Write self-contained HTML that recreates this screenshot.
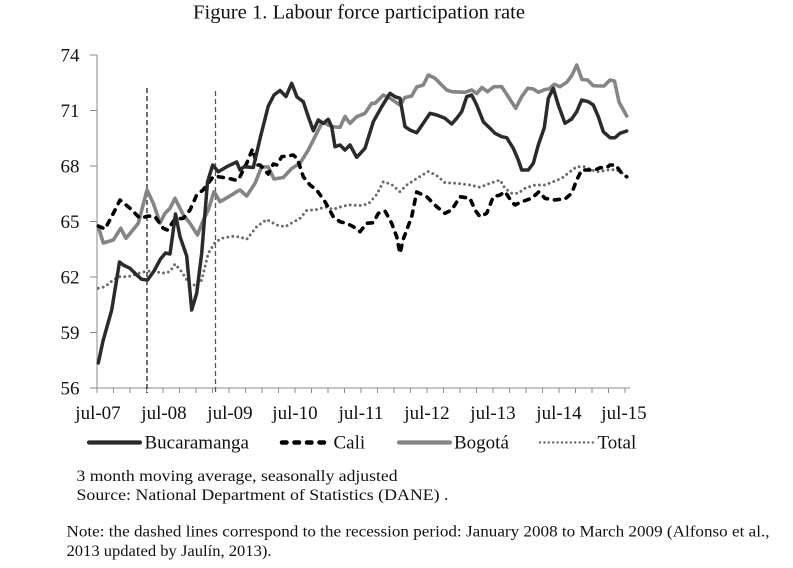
<!DOCTYPE html>
<html>
<head>
<meta charset="utf-8">
<style>
  html, body { margin: 0; padding: 0; background: #ffffff; }
  body { width: 793px; height: 568px; overflow: hidden; }
  svg { display: block; }
  text { font-family: "Liberation Serif", "Times New Roman", serif; fill: #111; }
</style>
</head>
<body>
<svg width="793" height="568" viewBox="0 0 793 568" xmlns="http://www.w3.org/2000/svg">
  <rect x="0" y="0" width="793" height="568" fill="#ffffff"/>

  <!-- Title -->
  <text x="193" y="18.5" font-size="20" textLength="332" lengthAdjust="spacingAndGlyphs">Figure 1. Labour force participation rate</text>

  <!-- Y axis -->
  <line x1="97" y1="55" x2="97" y2="388" stroke="#8a8a8a" stroke-width="1"/>
  <g stroke="#8a8a8a" stroke-width="1">
    <line x1="90" y1="55" x2="97" y2="55"/>
    <line x1="90" y1="110.5" x2="97" y2="110.5"/>
    <line x1="90" y1="166" x2="97" y2="166"/>
    <line x1="90" y1="221.5" x2="97" y2="221.5"/>
    <line x1="90" y1="277" x2="97" y2="277"/>
    <line x1="90" y1="332.5" x2="97" y2="332.5"/>
  </g>
  <g font-size="19" text-anchor="end">
    <text x="79.5" y="61.5">74</text>
    <text x="79.5" y="117">71</text>
    <text x="79.5" y="172.5">68</text>
    <text x="79.5" y="228">65</text>
    <text x="79.5" y="283.5">62</text>
    <text x="79.5" y="339">59</text>
    <text x="79.5" y="394.5">56</text>
  </g>

  <!-- X axis -->
  <line x1="90" y1="388" x2="630" y2="388" stroke="#8a8a8a" stroke-width="1"/>
  <g stroke="#8a8a8a" stroke-width="1">
    <line x1="97" y1="388" x2="97" y2="393"/><line x1="113.5" y1="388" x2="113.5" y2="393"/>
    <line x1="130" y1="388" x2="130" y2="393"/><line x1="146.5" y1="388" x2="146.5" y2="393"/>
    <line x1="163" y1="388" x2="163" y2="393"/><line x1="179.5" y1="388" x2="179.5" y2="393"/>
    <line x1="196" y1="388" x2="196" y2="393"/><line x1="212.5" y1="388" x2="212.5" y2="393"/>
    <line x1="229" y1="388" x2="229" y2="393"/><line x1="245.5" y1="388" x2="245.5" y2="393"/>
    <line x1="262" y1="388" x2="262" y2="393"/><line x1="278.5" y1="388" x2="278.5" y2="393"/>
    <line x1="295" y1="388" x2="295" y2="393"/><line x1="311.5" y1="388" x2="311.5" y2="393"/>
    <line x1="328" y1="388" x2="328" y2="393"/><line x1="344.5" y1="388" x2="344.5" y2="393"/>
    <line x1="361" y1="388" x2="361" y2="393"/><line x1="377.5" y1="388" x2="377.5" y2="393"/>
    <line x1="394" y1="388" x2="394" y2="393"/><line x1="410.5" y1="388" x2="410.5" y2="393"/>
    <line x1="427" y1="388" x2="427" y2="393"/><line x1="443.5" y1="388" x2="443.5" y2="393"/>
    <line x1="460" y1="388" x2="460" y2="393"/><line x1="476.5" y1="388" x2="476.5" y2="393"/>
    <line x1="493" y1="388" x2="493" y2="393"/><line x1="509.5" y1="388" x2="509.5" y2="393"/>
    <line x1="526" y1="388" x2="526" y2="393"/><line x1="542.5" y1="388" x2="542.5" y2="393"/>
    <line x1="559" y1="388" x2="559" y2="393"/><line x1="575.5" y1="388" x2="575.5" y2="393"/>
    <line x1="592" y1="388" x2="592" y2="393"/><line x1="608.5" y1="388" x2="608.5" y2="393"/>
    <line x1="625" y1="388" x2="625" y2="393"/>
  </g>
  <g font-size="19" text-anchor="middle">
    <text x="98" y="419">jul-07</text>
    <text x="164" y="419">jul-08</text>
    <text x="230" y="419">jul-09</text>
    <text x="295" y="419">jul-10</text>
    <text x="361" y="419">jul-11</text>
    <text x="427" y="419">jul-12</text>
    <text x="493" y="419">jul-13</text>
    <text x="559" y="419">jul-14</text>
    <text x="624" y="419">jul-15</text>
  </g>

  <!-- Recession dashed lines -->
  <line x1="147" y1="88" x2="147" y2="393" stroke="#111" stroke-width="1.2" stroke-dasharray="5 3"/>
  <line x1="215.5" y1="91" x2="215.5" y2="393" stroke="#555" stroke-width="1.3" stroke-dasharray="5 3"/>

  <!-- Total (dotted) -->
  <polyline fill="none" stroke="#6a6a6a" stroke-width="2.9" stroke-linecap="round" stroke-dasharray="0 5"
    points="98.3,288.3 105,286.7 112,281 118.3,276.7 128.3,276.7 138.3,273.3 145,271.7 153.3,270.5 161.7,273.3 170,271.7 175,264 181.7,271.7 188.3,282.5 196.7,286 201.7,280 208.3,253.3 215,242.5 221.7,238.3 231.7,236.3 240,237 246.7,239.3 256.7,226.7 266.7,219.5 276.7,225 285,226.7 294,221.7 300,218.3 306.7,210.5 316.7,209.5 325,207 333.3,209.3 343.3,206 350,205 360,205.5 368.3,204 376.7,194.5 383.3,181.7 391.7,184.5 400,191.7 406.7,185 418.3,177.5 428.3,171.5 436.7,175.5 445,182.7 456.7,183.3 470,185 480,187.3 490,183.3 500,180 505,188.3 511.7,193.3 518.3,193.3 525,188.3 535,185 545,185 553.3,181.7 561.7,178.3 570,171.7 576.7,166.7 585,166.7 591.7,170 598.3,171.7 605,170.5 611.7,169.5 618.3,170.5 625,175"/>

  <!-- Bogota (gray) -->
  <polyline fill="none" stroke="#858585" stroke-width="3.6" stroke-linejoin="round" stroke-linecap="round"
    points="98.3,226.7 103.3,243 113.3,240 120.7,228.3 126,238.3 138.3,223.3 147,190 153.3,203.3 160,223 165,213.3 170,208.3 175,198.3 183.3,215 190,223.3 197.5,235 203.3,220 208.3,210 214,191.7 220,201.7 230,196 236.7,191.7 240,190 246.7,196 255,183.3 261.7,166.7 268.3,167 274,179 283.3,177.5 291.7,168.5 300,163.3 308.3,150 315,136.7 321.7,123.3 325,123.3 331.7,126.7 340,127.3 345,116.5 350,123.3 356.7,116.7 365,113.3 371.7,103.3 375,103.3 383.3,95 390,98.3 400,105 405,97.5 411.7,96 416.7,87 423.3,85 428.3,75 435,78.3 446.7,90 451.7,91.7 465,92.3 471.7,90 476.7,93.5 482,87.5 487.5,91.7 494,86.7 501.7,86.7 508.3,96.7 515.7,108.3 521.7,96.7 527.7,88.3 533.3,89 538.3,92.3 545,89.5 549,89 554.3,84.3 560,86.7 566.7,82.3 571.7,75.7 576.7,65 582,79.5 587.7,80 593.3,85.7 600,86 604,86 610,80 614.5,81 619,102 626.7,116"/>

  <!-- Cali (dashed black) -->
  <polyline fill="none" stroke="#000" stroke-width="3.6" stroke-linejoin="round" stroke-linecap="round" stroke-dasharray="5 7"
    points="98.3,226 105,229 112,216 120,200 130,208.3 140,218.3 148.3,216 155,216.7 163.3,228.3 167.5,230 175,219 183.3,218.3 190,210 196.7,195 203,190 208.3,183 213.3,176.7 218.3,176.7 228.3,178.3 235,180 238.3,180 246.7,163.3 252.5,149 257,165 260,165 268.3,174 273.3,164 277,165 281.7,156.7 286.7,156 293.3,155 297.5,159 303.3,176.7 310,185 316.7,190 325,201.7 333.3,216.7 340,221.7 346.7,223.3 353.3,226.7 360,231.7 366.7,223.3 373.3,222.7 378.3,213.3 385,211 391.7,223.3 396.7,236.7 400,253.3 403.3,239 411.7,216.7 416.7,192 426.7,196.7 436.7,206.7 445,213.3 451.7,210 460,196.7 470,198.3 475,210 480,216.7 486.7,213.3 493.3,196.7 500,195 505,191.7 511.7,201.7 515,205 521.7,201.7 531.7,198.3 539,191.7 545,198.3 553.3,200 565,199 571.7,193.3 576.7,180 581.7,170 588.3,170 595,170 600,167.7 606.7,167.7 610,165 615.7,165 621.7,173.3 626.7,176.7"/>

  <!-- Bucaramanga (solid dark) -->
  <polyline fill="none" stroke="#2b2b2b" stroke-width="3.5" stroke-linejoin="round" stroke-linecap="round"
    points="98.3,363 103,341 111.7,310 119.5,262 123.3,265 130,268.3 136.7,275 141.7,279.3 147.5,280 154,271 160.5,259 165.5,253 170,254 175.5,214 180,236.7 186.7,256 191.7,310 196.7,293.3 201.7,253.3 207.5,182 212.7,165 218.3,171.7 226.7,166.7 236.7,162 240,170 244,166.7 253.3,167.5 260.5,136.7 268.3,106 274,95 280,90.5 286,96.5 291.7,83.3 297,97 303.3,101.7 308.3,116.7 313.3,130.7 318.3,120 323.3,123.3 328.3,119.3 331.7,126.7 335,146.7 340,145 345,150 350,145 356.7,157.3 365,148.3 373.3,121.7 381.7,106.7 390,93.3 395,96.7 400,98.3 405,126.7 410,130 416.7,132.7 423.3,123.3 430,113.3 436.7,115 445,118.3 451.7,124 456.7,118.3 461.7,111.7 466.7,96.7 471.7,95 476.7,105 483.3,121.7 490,128.3 495,133.3 501.7,136.7 506.7,137.7 513.3,148.3 518.3,160 521.7,170 528.3,170 533.3,163.3 538.3,145 544.3,127.7 548.3,98.3 553.3,88.3 558.3,105 565,123.3 571.7,119 576.7,111.7 581.7,100 588.3,101.7 593.3,105 598.3,116.7 603.3,131.7 610,137.7 615,137.7 620,133.3 626.7,131"/>

  <!-- Legend -->
  <line x1="89" y1="442.5" x2="140" y2="442.5" stroke="#2b2b2b" stroke-width="4.2" stroke-linecap="round"/>
  <text x="144.5" y="448.5" font-size="19">Bucaramanga</text>
  <line x1="282" y1="442.5" x2="330" y2="442.5" stroke="#000" stroke-width="4.5" stroke-linecap="round" stroke-dasharray="4.5 8"/>
  <text x="333.5" y="448.5" font-size="19">Cali</text>
  <line x1="399" y1="442.5" x2="450" y2="442.5" stroke="#858585" stroke-width="4.2" stroke-linecap="round"/>
  <text x="454" y="448.5" font-size="19">Bogotá</text>
  <line x1="540" y1="442.5" x2="593" y2="442.5" stroke="#666" stroke-width="2.4" stroke-linecap="round" stroke-dasharray="0 4.4"/>
  <text x="597.5" y="448.5" font-size="19">Total</text>

  <!-- Notes -->
  <text x="76.5" y="481" font-size="16" textLength="321" lengthAdjust="spacingAndGlyphs">3 month moving average, seasonally adjusted</text>
  <text x="76.5" y="500" font-size="16" textLength="372" lengthAdjust="spacingAndGlyphs">Source: National Department of Statistics (DANE) .</text>
  <text x="66.5" y="536.5" font-size="16" textLength="703" lengthAdjust="spacingAndGlyphs">Note: the dashed lines correspond to the recession period: January 2008 to March 2009 (Alfonso et al.,</text>
  <text x="66.5" y="556" font-size="16" textLength="205" lengthAdjust="spacingAndGlyphs">2013 updated by Jaulín, 2013).</text>
</svg>
</body>
</html>
